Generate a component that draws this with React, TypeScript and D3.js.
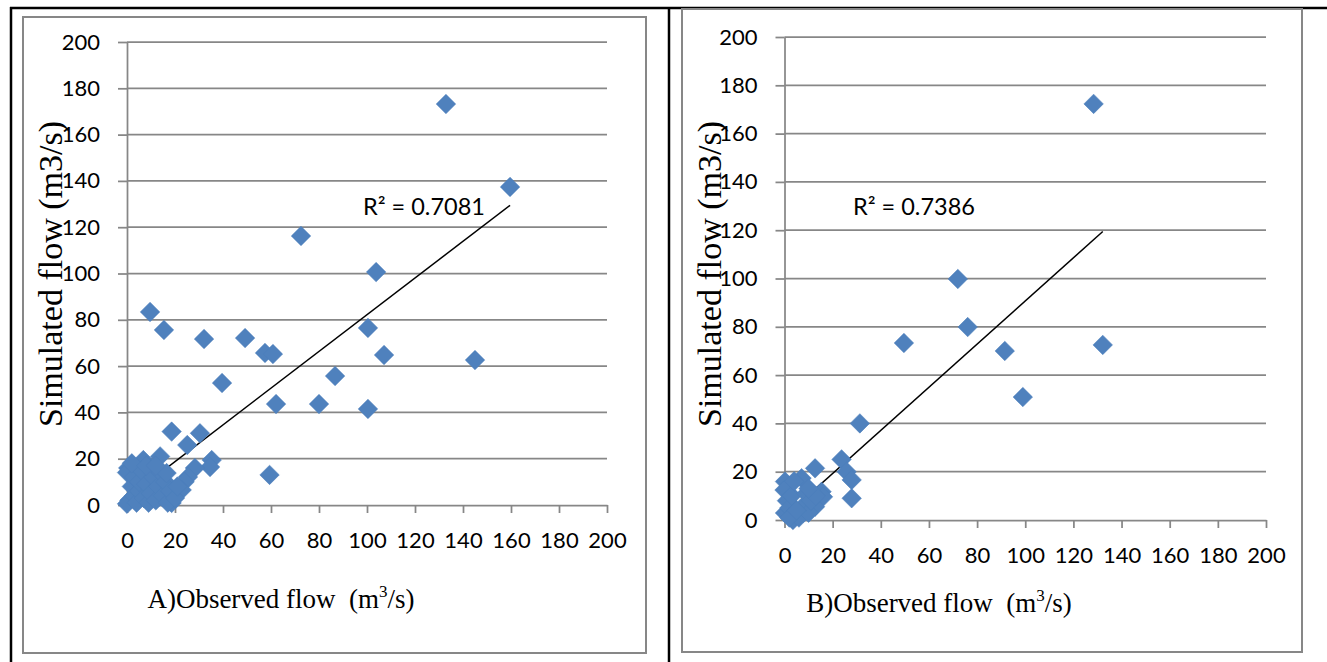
import React, { useEffect, useRef } from 'react';
import * as d3 from 'd3';

// axis ticks shared by both panels (m3/s)
const tickValues = [0, 20, 40, 60, 80, 100, 120, 140, 160, 180, 200];

// A) calibration: observed vs simulated flow
const obsA = [132.9, 159.6, 72.5, 103.8, 9.6, 15.4, 32.1, 49.2, 100.4, 57.5, 60.8, 107.1, 145, 39.6, 86.7, 62.1, 80, 100.4,
  59.4, 18.6, 30.4, 25.1, 35.3, 34.6, 28.3, 25.4, 24, 22.8, 18.6, 13.8, 6.8, 0.5,
  0, 1, 0, 2, 3, 3, 4, 5, 5, 6, 7, 8, 9, 10, 11, 12, 13, 14, 15, 16, 17, 18, 20, 21, 16.5, 2, 8, 12];
const simA = [173.2, 137.4, 116.2, 100.6, 83.4, 75.6, 71.7, 72.1, 76.5, 65.7, 65.2, 64.8, 62.6, 52.7, 55.7, 43.6, 43.6, 41.5,
  13, 31.7, 31, 25.9, 19.4, 16.4, 16, 12.1, 10, 6.5, 0.9, 21, 19.4, 16,
  14, 2, 0.5, 8, 4, 12, 1, 6, 10, 15, 3, 9, 1, 5, 12, 2, 8, 14, 4, 10, 1, 6, 3, 8, 13.8, 18, 17, 17];

// B) validation: observed vs simulated flow
const obsB = [128.4, 132.2, 72, 76.1, 49.6, 91.5, 99, 31.3, 23.7, 25.8, 27.9, 27.9, 12.7, 7.1, 0.2, 0, 15.4, 16, 12.7, 0.2, 3.5, 7.7,
  1, 2, 3, 4, 6, 8, 9, 10, 11, 2, 5, 13, 10];
const simB = [172.3, 72.5, 99.8, 79.9, 73.3, 70, 50.9, 40, 25.1, 20, 16.6, 9, 21.4, 17.3, 15.9, 12.4, 11.7, 9.6, 5.5, 2.9, 0, 2.9,
  8, 5, 10, 16, 1, 6, 11, 3, 8, 1, 4, 10, 13];

// linear trendlines
const trendA = { intercept: 2.9, slope: 0.793, xMax: 159.6, r2: 'R² = 0.7081' };
const trendB = { intercept: 1.4, slope: 0.893, xMax: 132.2, r2: 'R² = 0.7386' };

const panels = [
  {
    obs: obsA, sim: simA, trend: trendA, letter: 'A',
    box: [23, 17, 646, 653], x: [127, 607], y: [505, 42],
    yTitle: [62, 274], xTitle: [281, 608], r2Pos: [363, 215],
  },
  {
    obs: obsB, sim: simB, trend: trendB, letter: 'B',
    box: [682, 9, 1302, 652], x: [784.5, 1266], y: [520, 37],
    yTitle: [721, 274], xTitle: [939, 612], r2Pos: [853, 215],
  },
];

const W = 1327;
const H = 662;
const grey = '#878787';

const App = () => {
  const ref = useRef(null);

  useEffect(() => {
    const svg = d3.select(ref.current);
    svg.selectAll('*').remove();

    // table borders
    svg.append('path')
      .attr('d', `M10,8H${W} M11,7V${H} M669,7V${H}`)
      .attr('stroke', '#000')
      .attr('stroke-width', 2.5)
      .attr('fill', 'none');

    panels.forEach(p => {
      const g = svg.append('g');
      const [bx0, by0, bx1, by1] = p.box;
      g.append('rect')
        .attr('x', bx0).attr('y', by0)
        .attr('width', bx1 - bx0).attr('height', by1 - by0)
        .attr('fill', '#fff')
        .attr('stroke', grey)
        .attr('stroke-width', 2);

      const x = d3.scaleLinear().domain([0, 200]).range(p.x);
      const y = d3.scaleLinear().domain([0, 200]).range(p.y);

      // horizontal gridlines
      g.append('g')
        .selectAll('line')
        .data(tickValues.slice(1))
        .join('line')
        .attr('x1', x(0)).attr('x2', x(200))
        .attr('y1', d => y(d)).attr('y2', d => y(d))
        .attr('stroke', grey)
        .attr('stroke-width', 1.75);

      const yAxis = g.append('g')
        .attr('transform', `translate(${x(0)},0)`)
        .call(d3.axisLeft(y).tickValues(tickValues).tickSize(9).tickSizeOuter(0).tickPadding(18));
      const xAxis = g.append('g')
        .attr('transform', `translate(0,${y(0)})`)
        .call(d3.axisBottom(x).tickValues(tickValues).tickSize(8).tickSizeOuter(0).tickPadding(19));

      [yAxis, xAxis].forEach(ax => {
        ax.attr('font-family', 'Lato, sans-serif').attr('font-size', 22);
        ax.selectAll('path, line').attr('stroke', grey).attr('stroke-width', 1.75);
        ax.selectAll('text').attr('fill', '#000');
      });

      // trendline
      const t = p.trend;
      g.append('line')
        .attr('x1', x(0)).attr('y1', y(t.intercept))
        .attr('x2', x(t.xMax)).attr('y2', y(t.intercept + t.slope * t.xMax))
        .attr('stroke', '#000')
        .attr('stroke-width', 1.5);

      // diamond markers
      const diamond = d3.symbol(d3.symbolSquare, 190)();
      g.append('g')
        .selectAll('path')
        .data(p.obs.map((o, i) => [o, p.sim[i]]))
        .join('path')
        .attr('d', diamond)
        .attr('transform', d => `translate(${x(d[0])},${y(d[1])}) rotate(45)`)
        .attr('fill', '#4F81BD')
        .attr('stroke', '#4A7EBB')
        .attr('stroke-width', 0.5);

      g.append('text')
        .attr('x', p.r2Pos[0]).attr('y', p.r2Pos[1])
        .attr('font-family', 'Lato, sans-serif')
        .attr('font-size', 23.5)
        .text(t.r2);

      g.append('text')
        .attr('transform', `translate(${p.yTitle[0]},${p.yTitle[1]}) rotate(-90)`)
        .attr('text-anchor', 'middle')
        .attr('font-family', '"Liberation Serif", "Times New Roman", serif')
        .attr('font-size', 34)
        .text('Simulated flow (m3/s)');

      const xt = g.append('text')
        .attr('x', p.xTitle[0]).attr('y', p.xTitle[1])
        .attr('text-anchor', 'middle')
        .attr('font-family', '"Liberation Serif", "Times New Roman", serif')
        .attr('font-size', 27);
      xt.append('tspan').text(`${p.letter})Observed flow\u00a0\u00a0(m`);
      xt.append('tspan').attr('font-size', 17).attr('dy', -11).text('3');
      xt.append('tspan').attr('dy', 11).text('/s)');
    });
  }, []);

  return (
    <svg ref={ref} width={W} height={H} viewBox={`0 0 ${W} ${H}`}
      style={{ position: 'absolute', left: 0, top: 0, background: '#fff' }} />
  );
};

export default App;
